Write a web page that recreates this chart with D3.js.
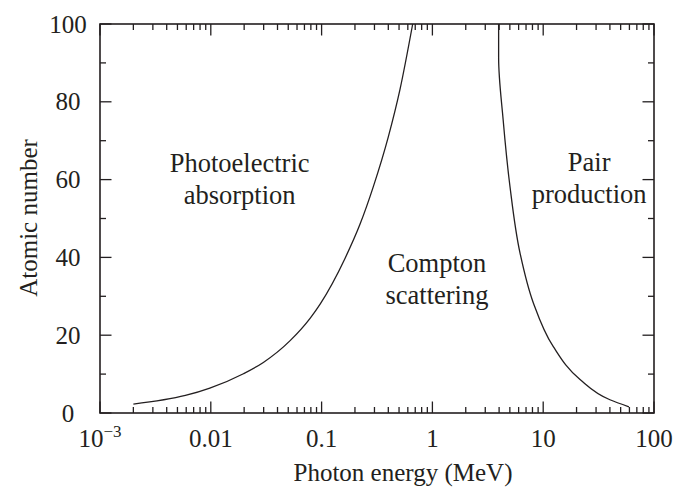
<!DOCTYPE html>
<html>
<head>
<meta charset="utf-8">
<script src="https://cdn.jsdelivr.net/npm/d3@7"></script>
<style>
	html, body { margin: 0; background: #fff; }
	svg { display: block; font-family: 'Liberation Serif', 'Times New Roman', serif; }
	text { fill: #231f20; }
</style>
</head>
<body>
<svg id="chart" width="673" height="491"></svg>
<script>
// boundary between photoelectric and Compton (energy in MeV, Z)
const photoEnergy = [0.002, 0.0059, 0.0098, 0.0197, 0.0298, 0.052, 0.079, 0.097, 0.163, 0.222, 0.293, 0.40, 0.51, 0.664]
const photoZ = [2.3, 4.5, 6.4, 10.1, 13, 18.6, 24.4, 28.0, 39.8, 48.5, 58.2, 71, 83.2, 100]

// boundary between Compton and pair production
const pairEnergy = [3.96, 3.96, 4.35, 5.01, 6.18, 8.15, 12.3, 21.5, 40, 59.4]
const pairZ = [100, 91.3, 75.4, 58.3, 41.1, 28.3, 17.1, 8.6, 3.4, 1.6]

const xTicks = [0.001, 0.01, 0.1, 1, 10, 100]
const xTickLabels = ['10', '0.01', '0.1', '1', '10', '100']
const yTicks = [0, 20, 40, 60, 80, 100]

const regionLabels = [
	{lines: ['Photoelectric', 'absorption'], e: 0.0182, z: 62},
	{lines: ['Compton', 'scattering'], e: 1.1, z: 36.3},
	{lines: ['Pair', 'production'], e: 26, z: 62.2},
]

const mLeft = 100, mRight = 654, mTop = 24, mBottom = 413
const ink = '#231f20'

const svg = d3.select('#chart')

const x = d3.scaleLog().domain([1e-3, 100]).range([mLeft, mRight])
const y = d3.scaleLinear().domain([0, 100]).range([mBottom, mTop])

// minor ticks 2..9 in each decade
const xMinor = []
for (let d = -3; d < 2; d++) {
	for (let m = 2; m <= 9; m++) xMinor.push(m * Math.pow(10, d))
}
const yMinor = [10, 30, 50, 70, 90]

const major = 11.5, minor = 6

const axes = svg.append('g').attr('stroke', ink).attr('stroke-width', 1.3)

// ticks on all four sides, pointing inward
xTicks.concat(xMinor).forEach(v => {
	const len = xTicks.includes(v) ? major : minor
	const px = x(v)
	axes.append('line').attr('x1', px).attr('x2', px).attr('y1', mBottom).attr('y2', mBottom - len)
	axes.append('line').attr('x1', px).attr('x2', px).attr('y1', mTop).attr('y2', mTop + len)
})
yTicks.concat(yMinor).forEach(v => {
	const len = yTicks.includes(v) ? major : minor
	const py = y(v)
	axes.append('line').attr('x1', mLeft).attr('x2', mLeft + len).attr('y1', py).attr('y2', py)
	axes.append('line').attr('x1', mRight).attr('x2', mRight - len).attr('y1', py).attr('y2', py)
})

axes.append('rect')
	.attr('x', mLeft).attr('y', mTop)
	.attr('width', mRight - mLeft).attr('height', mBottom - mTop)
	.attr('fill', 'none')
	.attr('stroke-width', 1.6)

// tick labels
const xLab = svg.append('g').attr('font-size', 25).attr('text-anchor', 'middle')
xTicks.forEach((v, i) => {
	const t = xLab.append('text').attr('x', x(v)).attr('y', mBottom + 34).text(xTickLabels[i])
	if (i === 0) t.append('tspan').attr('font-size', 17).attr('dy', -10).text('\u22123')
})

svg.append('g').attr('font-size', 25).attr('text-anchor', 'middle')
	.selectAll('text').data(yTicks).join('text')
	.attr('x', 68).attr('y', d => y(d) + 8.5)
	.text(d => d)

// curves
const photoLine = d3.line().x(d => x(d[0])).y(d => y(d[1])).curve(d3.curveMonotoneX)
const pairLine = d3.line().x(d => x(d[0])).y(d => y(d[1])).curve(d3.curveMonotoneY)

svg.append('path')
	.datum(photoEnergy.map((e, i) => [e, photoZ[i]]))
	.attr('d', photoLine)
	.attr('fill', 'none').attr('stroke', ink).attr('stroke-width', 1.3)

svg.append('path')
	.datum(pairEnergy.map((e, i) => [e, pairZ[i]]))
	.attr('d', pairLine)
	.attr('fill', 'none').attr('stroke', ink).attr('stroke-width', 1.3)

// region labels
const reg = svg.append('g').attr('font-size', 26.5).attr('text-anchor', 'middle')
regionLabels.forEach(r => {
	r.lines.forEach((s, k) => {
		reg.append('text').attr('x', x(r.e)).attr('y', y(r.z) + k * 32).text(s)
	})
})

// axis titles
svg.append('text')
	.attr('x', 403).attr('y', 481)
	.attr('font-size', 25).attr('text-anchor', 'middle')
	.text('Photon energy (MeV)')

svg.append('text')
	.attr('transform', 'translate(37,218) rotate(-90)')
	.attr('font-size', 25).attr('text-anchor', 'middle')
	.text('Atomic number')
</script>
</body>
</html>
